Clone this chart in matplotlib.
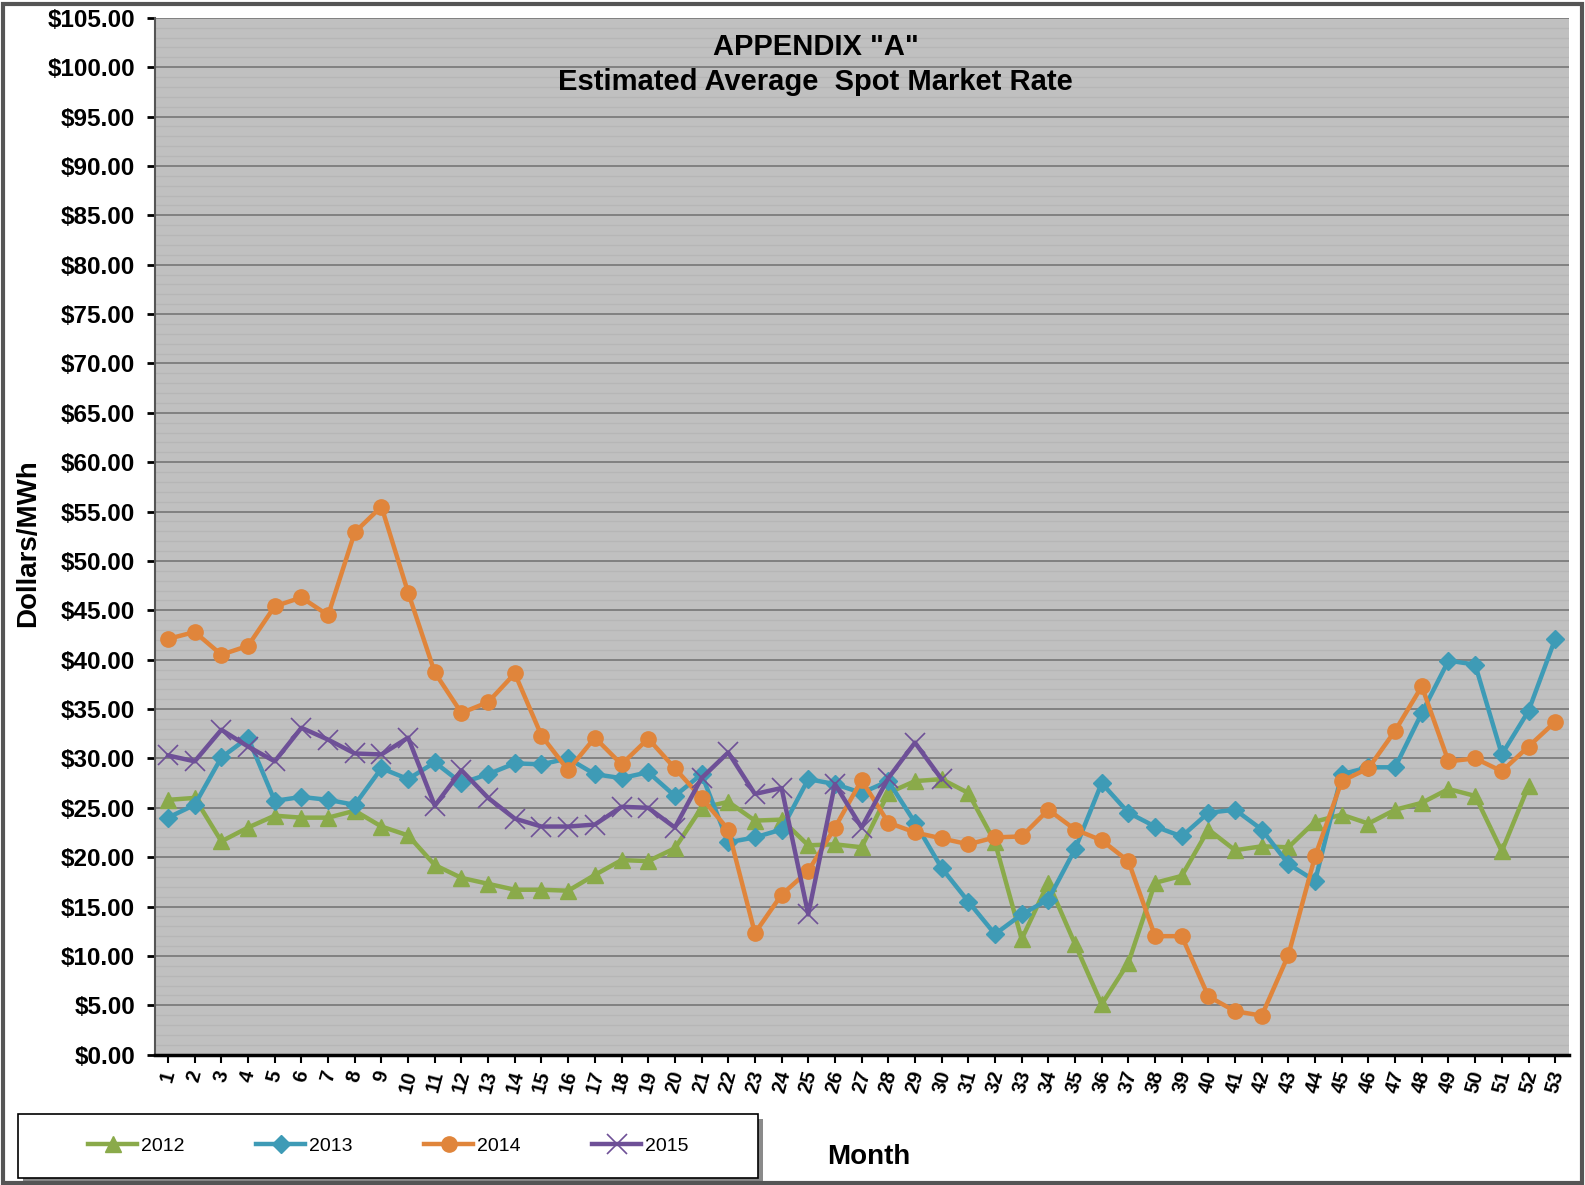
import numpy as np
import matplotlib
matplotlib.use("Agg")
import matplotlib.pyplot as plt
from matplotlib.patches import Rectangle

# ── Data ─────────────────────────────────────────────────────────────────────
weeks = np.arange(1, 54)

rate_2012 = [25.8, 26.0, 21.6, 23.0, 24.2, 24.0, 24.0, 24.7, 23.1, 22.2,
             19.2, 17.9, 17.3, 16.7, 16.7, 16.6, 18.2, 19.7, 19.6, 20.9,
             25.0, 25.6, 23.7, 23.8, 21.2, 21.3, 21.0, 26.5, 27.7, 27.9,
             26.5, 21.5, 11.7, 17.4, 11.2, 5.1, 9.3, 17.4, 18.1, 22.8,
             20.7, 21.1, 21.0, 23.6, 24.3, 23.4, 24.8, 25.5, 26.9, 26.2,
             20.6, 27.2, np.nan]
rate_2013 = [24.0, 25.3, 30.1, 32.1, 25.7, 26.1, 25.8, 25.3, 29.0, 27.9,
             29.6, 27.5, 28.4, 29.5, 29.4, 30.0, 28.4, 28.0, 28.6, 26.2,
             28.4, 21.5, 22.0, 22.8, 27.9, 27.4, 26.5, 27.7, 23.5, 18.9,
             15.5, 12.2, 14.2, 15.7, 20.8, 27.5, 24.5, 23.1, 22.1, 24.5,
             24.8, 22.8, 19.3, 17.6, 28.4, 29.1, 29.1, 34.6, 39.9, 39.5,
             30.4, 34.8, 42.1]
rate_2014 = [42.1, 42.8, 40.5, 41.4, 45.4, 46.3, 44.5, 52.9, 55.5, 46.8,
             38.7, 34.6, 35.7, 38.6, 32.3, 28.8, 32.1, 29.4, 32.0, 29.0,
             26.0, 22.8, 12.3, 16.2, 18.6, 23.0, 27.8, 23.5, 22.5, 21.9,
             21.3, 22.0, 22.1, 24.8, 22.8, 21.7, 19.6, 12.0, 12.0, 5.9,
             4.4, 3.95, 10.1, 20.1, 27.7, 29.0, 32.8, 37.3, 29.7, 30.0,
             28.7, 31.2, 33.7]
rate_2015 = [30.3, 29.7, 32.9, 31.2, 29.7, 33.1, 31.9, 30.5, 30.4, 32.1,
             25.2, 28.8, 26.0, 23.9, 23.1, 23.1, 23.3, 25.1, 25.0, 23.0,
             28.0, 30.6, 26.4, 27.0, 14.2, 27.4, 23.0, 28.0, 31.6, 27.9]
rate_2015 = rate_2015 + [np.nan] * (len(weeks) - len(rate_2015))

series = [
    ("2012", rate_2012, "#8AAA4A", "^"),
    ("2013", rate_2013, "#3E9BB6", "D"),
    ("2014", rate_2014, "#E0853B", "o"),
    ("2015", rate_2015, "#6E5097", "x"),
]

y_ticks = np.arange(0, 106, 5)

plt.rcParams["font.family"] = ["Liberation Sans", "DejaVu Sans"]

fig = plt.figure(figsize=(15.85, 11.85), dpi=100)
ax = fig.add_axes([0.0976, 0.110, 0.892, 0.875])
ax.set_facecolor("#c0c0c0")

# faint minor stripes + major gridlines
ax.set_yticks(np.arange(0, 106, 1), minor=True)
ax.grid(which="minor", axis="y", color="#b6b6b6", lw=0.9, zorder=0)
ax.grid(which="major", axis="y", color="#7c7c7c", lw=1.3, zorder=0)
ax.set_axisbelow(True)

handles = []
for label, vals, color, mk in series:
    if mk == "x":
        h, = ax.plot(weeks, vals, color=color, lw=3.2, marker="x", ms=15,
                     mew=1.2, label=label, zorder=3)
    else:
        ms = 9 if mk == "D" else 11
        h, = ax.plot(weeks, vals, color=color, lw=3.2, marker=mk, ms=ms,
                     mec=color, label=label, zorder=3)
    handles.append(h)

ax.set_xlim(0.5, 53.5)
ax.set_ylim(0, 105)
ax.set_yticks(y_ticks)
ax.set_yticklabels([f"${v:.2f}" for v in y_ticks],
                   fontsize=17.5, fontweight="bold")
ax.set_xticks(weeks)
ax.set_xticklabels([str(w) for w in weeks], rotation=75, fontsize=14.5,
                   fontweight="bold", ha="center")
ax.tick_params(axis="y", which="major", length=6, width=2, pad=8)
ax.tick_params(axis="y", which="minor", length=0)
ax.tick_params(axis="x", length=6, width=1.5, pad=4)

for side in ("top", "right"):
    ax.spines[side].set_visible(False)
ax.spines["left"].set_color("#555555")
ax.spines["left"].set_linewidth(1.5)
ax.spines["bottom"].set_color("black")
ax.spines["bottom"].set_linewidth(2.5)

# titles / axis labels
fig.text(0.5145, 0.960, 'APPENDIX "A"', ha="center", va="center",
         fontsize=21, fontweight="bold")
fig.text(0.5145, 0.931, "Estimated Average  Spot Market Rate", ha="center",
         va="center", fontsize=21, fontweight="bold")
fig.text(0.0175, 0.542, "Dollars/MWh", rotation=90, ha="center",
         va="center", fontsize=20, fontweight="bold")
fig.text(0.548, 0.024, "Month", ha="center", va="center",
         fontsize=20, fontweight="bold")

# legend box with drop shadow, entries centred inside
box = (0.0115, 0.006, 0.467, 0.054)
shadow = Rectangle((box[0] + 0.003, box[1] - 0.004), box[2], box[3],
                   transform=fig.transFigure, facecolor="#8a8a8a",
                   edgecolor="none", zorder=1)
frame = Rectangle(box[:2], box[2], box[3], transform=fig.transFigure,
                  facecolor="white", edgecolor="black", lw=1.2, zorder=2)
fig.patches.extend([shadow, frame])
leg = fig.legend(handles=handles, loc="center", ncol=4,
                 bbox_to_anchor=(box[0] + box[2] / 2, box[1] + box[3] / 2),
                 fontsize=14, handlelength=2.5, handletextpad=0.2,
                 columnspacing=3.7, frameon=False)
leg.set_zorder(3)

# outer chart border
fig.patches.append(Rectangle((0.002, 0.002), 0.996, 0.995,
                             transform=fig.transFigure, fill=False,
                             edgecolor="#555555", lw=3))

fig.savefig("out.png", dpi=100)
